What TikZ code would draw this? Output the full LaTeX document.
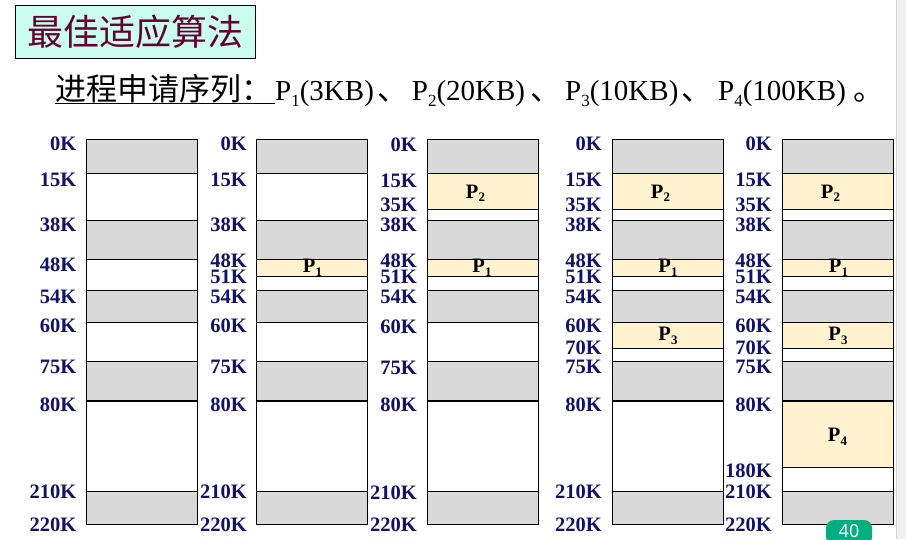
\documentclass[tikz,border=0pt]{standalone}
\usepackage{fontspec}
\setmainfont{Liberation Serif}
\newfontfamily\cjk{Noto Sans CJK SC}
\newfontfamily\badgefont{Noto Sans}
\definecolor{memgrey}{RGB}{217,217,217}
\definecolor{memyellow}{RGB}{254,243,206}
\definecolor{labnavy}{RGB}{18,18,104}
\definecolor{titlered}{RGB}{102,0,51}
\definecolor{titlebg}{RGB}{202,253,237}
\definecolor{badgegreen}{RGB}{0,174,128}
\definecolor{bandgrey}{RGB}{240,240,240}
\definecolor{bandline}{RGB}{208,208,208}
\tikzset{
  seg/.style={draw=black, line width=0.8pt},
  heavy/.style={draw=black, line width=1.8pt},
  lab/.style={anchor=east, inner sep=0pt, text depth=0pt, text=labnavy,
    font=\fontsize{20.5}{21}\selectfont\bfseries},
  plab/.style={anchor=base, inner sep=0pt, font=\fontsize{20.5}{21}\selectfont\bfseries},
  subl/.style={anchor=base west, inner sep=0pt, font=\fontsize{29}{30}\selectfont},
  subc/.style={anchor=base west, inner sep=0pt, font=\cjk\fontsize{31}{32}\selectfont},
}
\newcommand\psub[1]{P\raisebox{-3.5pt}{\fontsize{13}{13}\selectfont #1}}
\newcommand\lsub[1]{P\raisebox{-6pt}{\fontsize{17}{17}\selectfont #1}}
\begin{document}
\begin{tikzpicture}[x=1pt,y=-1pt]
\useasboundingbox (0,0) rectangle (906,539);
\fill[white] (0,0) rectangle (906,539);
% right band
\fill[bandgrey] (896,0) rectangle (906,539);
\draw[bandline, line width=1pt] (896,0) -- (896,539);

% title
\node[draw=black, line width=0.9pt, fill=titlebg, minimum width=240.4pt, minimum height=53pt,
      inner sep=0pt, text=titlered, font=\cjk\fontsize{36}{36}\selectfont] (title) at (135.5,31.8) {最佳适应算法};

% subtitle
\node[subc] (s1) at (55,100) {进程申请序列：};
\draw[line width=0.9pt] ([yshift=-3.5pt]s1.base west) -- ([yshift=-3.5pt,xshift=3pt]s1.base east);
\node[subl] (s2) at (275,100) {\lsub{1}(3KB)};
\node[subc] (s3) at (377,100) {、};
\node[subl] (s4) at (411.7,100) {\lsub{2}(20KB)};
\node[subc] (s5) at (530,100) {、};
\node[subl] (s6) at (565,100) {\lsub{3}(10KB)};
\node[subc] (s7) at (681,100) {、};
\node[subl] (s8) at (718,100) {\lsub{4}(100KB)};
\node[subc] (s9) at (853,100) {。};

% column 1
\foreach \a/\b/\c in {139.5/173.5/memgrey,173.5/220.3/white,220.3/259.3/memgrey,259.3/290.3/white,
  290.3/322.3/memgrey,322.3/361.3/white,361.3/400.7/memgrey,400.7/491.7/white,491.7/524/memgrey}
  \filldraw[seg, fill=\c] (86.5,\a) rectangle (197.5,\b);
% column 2
\foreach \a/\b/\c in {139.5/173.5/memgrey,173.5/220.3/white,220.3/259.3/memgrey,259.3/276/memyellow,276/290.3/white,
  290.3/322.3/memgrey,322.3/361.3/white,361.3/400.7/memgrey,400.7/491.7/white,491.7/524/memgrey}
  \filldraw[seg, fill=\c] (256.5,\a) rectangle (367.5,\b);
% column 3
\foreach \a/\b/\c in {139.5/173.5/memgrey,173.5/209.3/memyellow,209.3/220.3/white,220.3/259.3/memgrey,259.3/276/memyellow,276/290.3/white,
  290.3/322.3/memgrey,322.3/361.3/white,361.3/400.7/memgrey,400.7/491.7/white,491.7/524/memgrey}
  \filldraw[seg, fill=\c] (427.5,\a) rectangle (538.5,\b);
% column 4
\foreach \a/\b/\c in {139.5/173.5/memgrey,173.5/209.3/memyellow,209.3/220.3/white,220.3/259.3/memgrey,259.3/276/memyellow,276/290.3/white,
  290.3/322.3/memgrey,322.3/348.3/memyellow,348.3/361.3/white,361.3/400.7/memgrey,400.7/491.7/white,491.7/524/memgrey}
  \filldraw[seg, fill=\c] (612.5,\a) rectangle (723.5,\b);
% column 5
\foreach \a/\b/\c in {139.5/173.5/memgrey,173.5/209.3/memyellow,209.3/220.3/white,220.3/259.3/memgrey,259.3/276/memyellow,276/290.3/white,
  290.3/322.3/memgrey,322.3/348.3/memyellow,348.3/361.3/white,361.3/400.7/memgrey,400.7/467.3/memyellow,467.3/491.7/white,491.7/524/memgrey}
  \filldraw[seg, fill=\c] (782.5,\a) rectangle (893.5,\b);
% heavy 80K lines
\foreach \x in {86.5,256.5,427.5,612.5,782.5}
  \draw[heavy] (\x,400.7) -- (\x+111,400.7);

% labels
\foreach \t/\y in {0K/144,15K/180,38K/225,48K/265,54K/297,60K/326,75K/367,80K/405,210K/492,220K/525}
  \node[lab] (a-\t) at (76.5,\y) {\t};
\foreach \t/\y in {0K/144,15K/180,38K/225,48K/260.5,51K/277,54K/297,60K/326,75K/367,80K/405,210K/492,220K/525}
  \node[lab] (b-\t) at (247,\y) {\t};
\foreach \t/\y in {0K/145,15K/181,35K/205,38K/225,48K/260.5,51K/277,54K/297,60K/326.5,75K/367.5,80K/405,210K/493,220K/525}
  \node[lab] (c-\t) at (417,\y) {\t};
\foreach \t/\y in {0K/144,15K/180,35K/205,38K/225,48K/260.5,51K/277,54K/297,60K/326,70K/348,75K/367,80K/405,210K/492,220K/525}
  \node[lab] (d-\t) at (602,\y) {\t};
\foreach \t/\y in {0K/144,15K/180,35K/205,38K/225,48K/260.5,51K/277,54K/297,60K/326,70K/348,75K/367,80K/405,180K/471,210K/492,220K/525}
  \node[lab] (e-\t) at (772,\y) {\t};

% process labels
\node[plab] (p1b) at (312.5,272.7) {\psub{1}};
\node[plab] (p2c) at (475.5,198.3) {\psub{2}};
\node[plab] (p1c) at (482,272.7) {\psub{1}};
\node[plab] (p2d) at (660.5,198.3) {\psub{2}};
\node[plab] (p1d) at (668,272.7) {\psub{1}};
\node[plab] (p3d) at (668,340.7) {\psub{3}};
\node[plab] (p2e) at (830.5,198.3) {\psub{2}};
\node[plab] (p1e) at (838.5,272.7) {\psub{1}};
\node[plab] (p3e) at (838,340.7) {\psub{3}};
\node[plab] (p4e) at (837.5,441.7) {\psub{4}};

% page badge
\fill[badgegreen, rounded corners=8pt] (826,545) -- (826,520) -- (872,520) -- (872,545) -- cycle;
\node[inner sep=0pt, text=white, font=\badgefont\fontsize{18}{18}\selectfont] (badge) at (849,531) {40};
\end{tikzpicture}
\end{document}
